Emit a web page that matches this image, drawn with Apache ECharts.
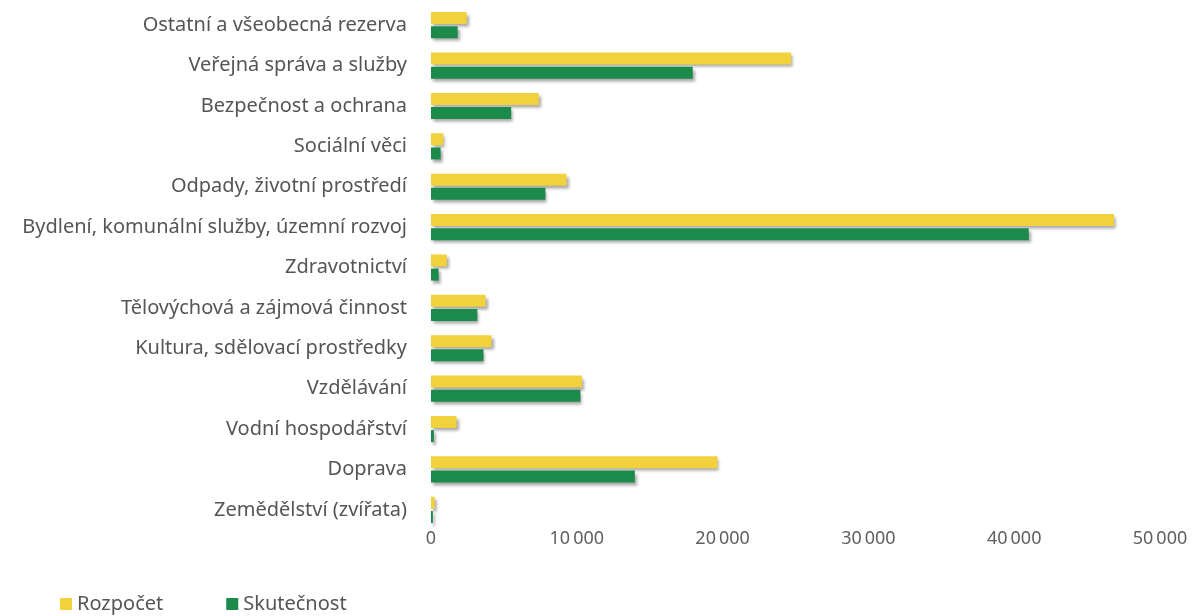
<!DOCTYPE html>
<html><head><meta charset="utf-8">
<script src="https://cdn.jsdelivr.net/npm/echarts@6/dist/echarts.min.js"></script>
<style>html,body{margin:0;padding:0;background:#fff}#c{width:1198px;height:616px}</style>
</head><body><div id="c"></div>
<script>
const categories = [
  "Zemědělství (zvířata)",
  "Doprava",
  "Vodní hospodářství",
  "Vzdělávání",
  "Kultura, sdělovací prostředky",
  "Tělovýchová a zájmová činnost",
  "Zdravotnictví",
  "Bydlení, komunální služby, územní rozvoj",
  "Odpady, životní prostředí",
  "Sociální věci",
  "Bezpečnost a ochrana",
  "Veřejná správa a služby",
  "Ostatní a všeobecná rezerva"
];
const rozpocet =   [250, 19650, 1750, 10350, 4150, 3750, 1080, 46850, 9300, 850, 7400, 24700, 2450];
const skutecnost = [130, 13980, 200, 10250, 3600, 3180, 520, 41000, 7850, 660, 5500, 17950, 1830];
const xTicks = [0, 10000, 20000, 30000, 40000, 50000];

const fmt = v => v === 0 ? "0" : String(v).replace(/\B(?=(\d{3})+(?!\d))/g, "\u2009");
const font = "'Noto Sans', sans-serif";
const txt = "#555555";
const shadow = {shadowColor: "rgba(0,0,0,0.35)", shadowBlur: 3, shadowOffsetX: 2, shadowOffsetY: 3};

const chart = echarts.init(document.getElementById("c"), null, {renderer: "canvas"});
chart.setOption({
  animation: false,
  grid: {left: 431, right: 38, top: 5, bottom: 86, containLabel: false},
  legend: {
    left: 55, top: 589, itemWidth: 12, itemHeight: 12, itemGap: 63,
    icon: "rect",
    textStyle: {fontFamily: font, fontSize: 20, color: txt},
    data: ["Rozpočet", "Skutečnost"]
  },
  xAxis: {
    type: "value", min: xTicks[0], max: xTicks[xTicks.length - 1], interval: 10000,
    axisLine: {show: false}, axisTick: {show: false}, splitLine: {show: false},
    axisLabel: {fontFamily: font, fontSize: 18, color: "#606060", margin: 0, formatter: fmt}
  },
  yAxis: {
    type: "category", data: categories,
    axisLine: {show: false}, axisTick: {show: false},
    axisLabel: {fontFamily: font, fontSize: 20, color: txt, margin: 24}
  },
  series: [
    {name: "Rozpočet", type: "bar", data: rozpocet, barWidth: 12, barGap: "18%",
     itemStyle: Object.assign({color: "#F2D23C"}, shadow)},
    {name: "Skutečnost", type: "bar", data: skutecnost, barWidth: 12,
     itemStyle: Object.assign({color: "#1B8A4A"}, shadow)}
  ]
});
</script></body></html>
